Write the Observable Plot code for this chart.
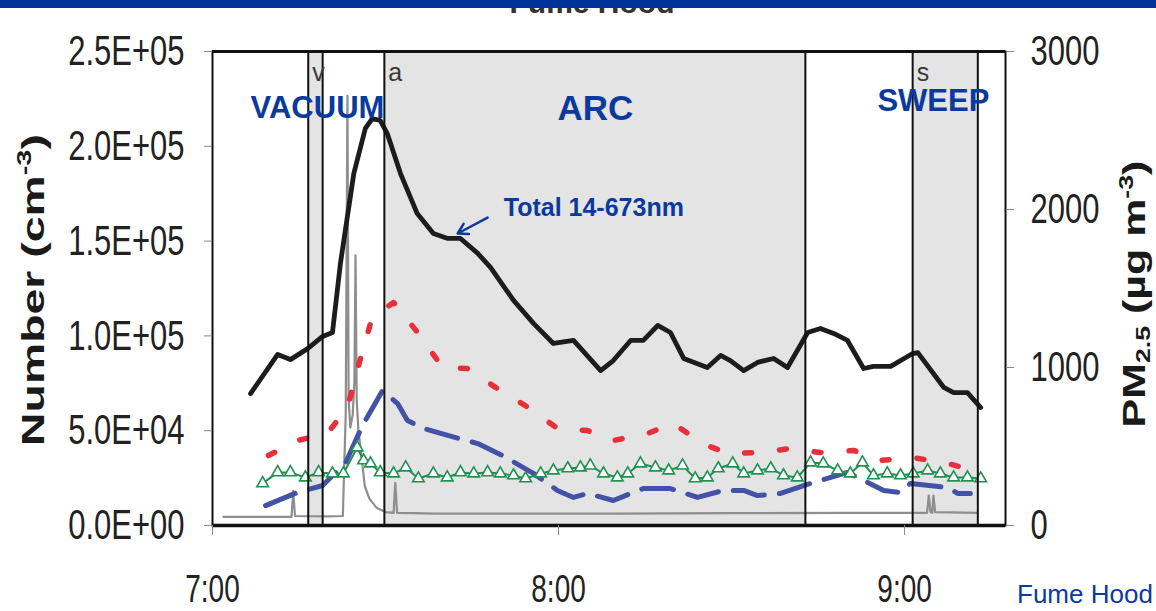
<!DOCTYPE html>
<html>
<head>
<meta charset="utf-8">
<script src="https://cdn.jsdelivr.net/npm/d3@7"></script>
<script src="https://cdn.jsdelivr.net/npm/@observablehq/plot@0.6"></script>
<style>
  html, body { margin: 0; padding: 0; background: #fff; overflow: hidden; }
  #chart svg { display: block; }
</style>
</head>
<body>
<div id="chart"></div>
<script>
// Time is in minutes after 7:00.

// Total particle number, 14-673 nm (cm^-3)
const totalTime = [6.6, 11.3, 13.5, 16.5, 19.1, 20.8, 22.2, 24.5, 26.5, 27.7, 29.1, 30.3, 32.6, 35.5, 38.3, 40.8, 43.0, 46.0, 48.2, 52.2, 55.7, 59.1, 62.6, 67.3, 69.5, 72.5, 74.7, 77.2, 79.4, 81.7, 85.8, 88.1, 89.8, 92.1, 94.5, 97.3, 99.7, 103.2, 105.4, 107.7, 110.1, 112.9, 114.6, 117.6, 121.4, 122.3, 126.8, 128.5, 130.9, 133.2];
const totalValue = [69600, 90200, 87500, 93300, 99700, 101800, 138700, 185600, 209400, 214600, 213600, 206700, 185600, 164500, 154000, 151400, 151400, 143500, 136100, 118700, 106500, 96000, 97600, 81700, 87000, 97600, 97600, 105500, 101800, 88100, 83300, 89700, 87000, 81700, 86000, 88100, 83300, 101800, 103900, 101300, 97600, 82800, 83900, 83900, 90700, 91200, 72800, 70100, 70100, 62200];

// Size bin drawn in red (short dashes)
const redTime = [9.7, 14.7, 19.9, 23.4, 25.7, 27.7, 31.4, 35.7, 39.9, 44.2, 49.1, 54.8, 59.8, 65.0, 69.5, 75.4, 79.9, 85.0, 89.3, 95.0, 100.2, 105.4, 111.2, 115.8, 121.4, 127.5, 132.0];
const redValue = [36900, 44800, 48500, 62200, 88600, 109700, 117600, 101300, 83300, 82800, 72800, 62200, 51200, 50100, 44800, 48500, 53800, 43200, 38000, 38500, 40600, 38500, 39600, 34300, 35900, 32700, 29000];

// Size bin drawn in blue (long dashes)
const blueTime = [9.2, 14.7, 19.1, 23.1, 26.0, 29.5, 32.1, 33.8, 36.6, 40.8, 46.0, 50.3, 55.7, 59.8, 62.6, 65.0, 69.5, 74.7, 79.4, 84.1, 88.6, 92.1, 94.5, 98.5, 103.7, 110.1, 116.4, 119.3, 121.0, 127.5, 129.2, 131.4];
const blueValue = [10500, 17400, 21100, 33200, 52700, 71200, 64300, 55400, 51200, 47500, 43200, 36900, 27400, 18500, 14800, 16900, 13200, 19500, 19500, 14800, 18500, 18500, 15800, 16900, 22200, 28000, 18500, 17400, 22200, 20000, 16900, 16900];

// Size bin drawn in green (open triangles)
const greenTime = [8.7, 11.3, 13.5, 16.1, 18.4, 20.8, 22.7, 25.1, 26.2, 27.4, 29.1, 31.4, 33.5, 35.7, 38.3, 40.7, 43.0, 45.3, 47.7, 49.9, 52.2, 54.3, 56.9, 59.1, 61.6, 63.8, 65.5, 67.8, 70.2, 72.0, 74.2, 76.8, 79.1, 81.5, 83.7, 85.8, 87.7, 90.2, 92.1, 94.5, 96.8, 99.0, 101.4, 103.7, 105.9, 108.4, 110.6, 112.7, 114.6, 117.0, 119.3, 121.5, 124.0, 126.2, 128.5, 130.9, 133.2];
const greenValue = [22200, 28000, 28000, 25300, 28000, 27400, 27400, 41100, 34300, 32700, 28000, 27400, 30600, 24800, 27400, 25300, 28000, 27400, 28000, 27400, 26400, 24800, 27400, 29000, 30100, 30600, 31600, 27400, 25300, 27400, 32700, 30600, 29000, 31600, 24800, 25300, 30100, 32700, 27400, 29000, 30100, 26400, 25300, 33200, 32700, 29000, 27400, 33200, 26400, 27400, 26400, 27400, 29000, 27400, 25300, 25300, 24800];

// PM2.5 mass concentration (µg m^-3), right axis
const pmTime = [1.9, 8.0, 13.7, 14.0, 14.3, 20.0, 22.6, 22.9, 23.1, 23.4, 23.6, 23.9, 24.3, 24.6, 24.8, 25.0, 25.3, 25.8, 26.4, 27.2, 28.5, 30.0, 31.4, 31.7, 32.0, 35.0, 38.5, 50.0, 70.0, 90.0, 110.0, 123.9, 124.2, 124.5, 124.8, 125.0, 125.3, 132.6];
const pmValue = [55, 55, 55, 220, 60, 58, 60, 450, 700, 2720, 800, 620, 700, 900, 1710, 800, 600, 450, 250, 170, 110, 85, 80, 270, 80, 78, 75, 75, 75, 78, 80, 80, 190, 85, 80, 190, 85, 80];

// Work phases
const phaseName = ["VACUUM", "ARC", "SWEEP"];
const phaseLetter = ["v", "a", "s"];
const phaseStart = [16.6, 29.8, 121.4];
const phaseEnd = [19.1, 102.8, 132.7];

const totalLabel = "Total 14-673nm";

// Axis ticks
const yTicks = [0, 50000, 100000, 150000, 200000, 250000];
const yTickLabels = ["0.0E+00", "5.0E+04", "1.0E+05", "1.5E+05", "2.0E+05", "2.5E+05"];
const pmTicks = [0, 1000, 2000, 3000];
const pmTickLabels = ["0", "1000", "2000", "3000"];
const xTicks = [0, 60, 120];
const xTickLabels = ["7:00", "8:00", "9:00"];

// ---------------------------------------------------------------
const series = (time, value) => time.map((t, i) => ({t, v: value[i]}));
const total = series(totalTime, totalValue);
const red = series(redTime, redValue);
const blue = series(blueTime, blueValue);
const green = series(greenTime, greenValue);
const ratio = 250000 / 3000; // number axis units per µg m^-3
const pm = pmTime.map((t, i) => ({t, v: pmValue[i] * ratio}));
const phases = phaseName.map((name, i) => ({name, letter: phaseLetter[i], start: phaseStart[i], end: phaseEnd[i]}));
const edges = phaseStart.concat(phaseEnd);

const TEXT_BLUE = "#0b3a9e";
const FONT = "'Liberation Sans', Arial, Helvetica, sans-serif";

const chart = Plot.plot({
  width: 1156,
  height: 611,
  marginLeft: 212,
  marginRight: 151,
  marginTop: 51,
  marginBottom: 86,
  style: {fontFamily: FONT, background: "#fff", color: "#222"},
  x: {domain: [0, 137.5]},
  y: {domain: [0, 250000]},
  marks: [
    Plot.rect(phases, {x1: "start", x2: "end", y1: 0, y2: 250000, fill: "#e4e4e4"}),
    Plot.line(pm, {x: "t", y: "v", stroke: "#8e8e8e", strokeWidth: 2.2}),
    Plot.line(blue, {x: "t", y: "v", stroke: "#4352a6", strokeWidth: 5, strokeDasharray: "32,15"}),
    Plot.line(red, {x: "t", y: "v", stroke: "#e8303a", strokeWidth: 5.5, strokeDasharray: "7,28"}),
    Plot.line(green, {x: "t", y: "v", stroke: "#1f9150", strokeWidth: 2}),
    Plot.dot(green, {x: "t", y: "v", symbol: "triangle", r: 4.3, stroke: "#1f9150", fill: "#fff", strokeWidth: 1.6}),
    Plot.line(total, {x: "t", y: "v", stroke: "#1c1c1c", strokeWidth: 4.8}),
    Plot.ruleX(edges, {stroke: "#111", strokeWidth: 2}),
    Plot.frame({stroke: "#111", strokeWidth: 2}),
    Plot.ruleY([0], {stroke: "#111", strokeWidth: 3.5}),
    Plot.ruleY([250000], {stroke: "#111", strokeWidth: 3}),

    Plot.axisY(yTicks, {
      anchor: "left", tickSize: 8, tickPadding: 20, label: null,
      tickFormat: d => yTickLabels[yTicks.indexOf(d)],
      fontSize: 31, stroke: "#888", fill: "#222"
    }),
    Plot.axisY(pmTicks.map(d => d * ratio), {
      anchor: "right", tickSize: 8, tickPadding: 17, label: null,
      tickFormat: d => pmTickLabels[pmTicks.indexOf(Math.round(d / ratio))],
      fontSize: 31, stroke: "#888", fill: "#222"
    }),
    Plot.axisX(xTicks, {
      anchor: "bottom", tickSize: 10, tickPadding: 39, label: null,
      tickFormat: d => xTickLabels[xTicks.indexOf(d)],
      fontSize: 28, stroke: "#888", fill: "#222"
    }),

    // phase letters at the start of each phase
    Plot.text(phases, {x: "start", y: 238900, text: "letter", textAnchor: "start", dx: 4,
      fontSize: 25, fill: "#3a3a3a", ariaLabel: "phase letter"}),

    // phase names
    Plot.text([phaseName[0]], {x: 18.2, y: 219900, text: d => d, fontSize: 31, fontWeight: "bold", fill: TEXT_BLUE}),
    Plot.text([phaseName[1]], {x: 66.4, y: 219900, text: d => d, fontSize: 35, fontWeight: "bold", fill: TEXT_BLUE}),
    Plot.text([phaseName[2]], {x: 125.0, y: 223600, text: d => d, fontSize: 31, fontWeight: "bold", fill: TEXT_BLUE}),

    // series annotation with arrow to the total curve
    Plot.text([totalLabel], {x: 50.5, y: 167200, text: d => d, textAnchor: "start", fontSize: 25, fontWeight: "bold", fill: TEXT_BLUE}),
    Plot.arrow([0], {x1: 47.7, y1: 162400, x2: 42.5, y2: 154000, stroke: TEXT_BLUE, strokeWidth: 2.5, headLength: 12})
  ]
});

document.getElementById("chart").appendChild(chart);

// Tall, narrow lettering for the axis numbers and phase letters
const svg = d3.select(chart);
svg.selectAll('g[aria-label$="tick label"] text, g[aria-label="phase letter"] text')
  .attr("transform", function () { return (this.getAttribute("transform") || "") + " scale(1,1.37)"; });

// Left axis title
const leftTitle = svg.append("text")
  .attr("transform", "translate(44,290) rotate(-90) scale(1.45,1)")
  .attr("text-anchor", "middle")
  .attr("fill", "#1a1a1a")
  .style("font-family", FONT).style("font-weight", "bold").style("font-size", "32px");
leftTitle.append("tspan").text("Number (cm");
leftTitle.append("tspan").attr("dy", -13).style("font-size", "20px").text("-3");
leftTitle.append("tspan").attr("dy", 13).text(")");

// Right axis title
const rightTitle = svg.append("text")
  .attr("transform", "translate(1145,294) rotate(-90) scale(1.34,1)")
  .attr("text-anchor", "middle")
  .attr("fill", "#1a1a1a")
  .style("font-family", FONT).style("font-weight", "bold").style("font-size", "32px");
rightTitle.append("tspan").text("PM");
rightTitle.append("tspan").attr("dy", 5).style("font-size", "20px").text("2.5");
rightTitle.append("tspan").attr("dy", -5).text(" (µg m");
rightTitle.append("tspan").attr("dy", -12).style("font-size", "20px").text("-3");
rightTitle.append("tspan").attr("dy", 12).text(")");

// Chart title, partly under the banner
svg.append("text")
  .attr("x", 592).attr("y", 13)
  .attr("text-anchor", "middle")
  .attr("fill", "#333")
  .style("font-family", FONT).style("font-weight", "bold").style("font-size", "30px")
  .text("Fume Hood");

// Banner along the top edge
svg.append("rect").attr("x", 0).attr("y", 0).attr("width", 1156).attr("height", 8).attr("fill", "#003399");

// Footer label
svg.append("text")
  .attr("x", 1017).attr("y", 603)
  .attr("text-anchor", "start")
  .attr("fill", TEXT_BLUE)
  .style("font-family", FONT).style("font-size", "26px")
  .text("Fume Hood");
</script>
</body>
</html>
